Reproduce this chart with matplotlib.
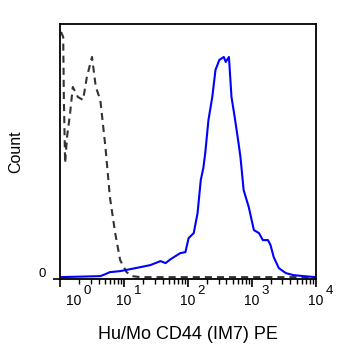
import matplotlib
matplotlib.use("Agg")
import matplotlib.pyplot as plt
import numpy as np
from matplotlib.ticker import LogLocator, NullFormatter

plt.rcParams["font.family"] = ["Liberation Sans", "DejaVu Sans"]

# stained sample (blue), log10 of intensity vs count
stain_log = [0.00, 0.63, 0.71, 0.78, 0.94, 1.18, 1.41, 1.57, 1.65, 1.73, 1.88,
             1.96, 2.01, 2.09, 2.15, 2.20, 2.24, 2.27, 2.32, 2.38, 2.43, 2.49,
             2.56, 2.59, 2.64, 2.65, 2.68, 2.73, 2.79, 2.82, 2.87, 2.95, 3.03,
             3.11, 3.17, 3.25, 3.29, 3.34, 3.42, 3.53, 3.65, 3.81, 4.00]
stain_count = [0, 1, 3, 5, 6, 9, 12, 16, 14, 18, 24,
               25, 39, 44, 64, 97, 109, 124, 157, 180, 207, 217,
               220, 215, 220, 210, 180, 160, 134, 120, 87, 70, 47,
               44, 37, 37, 32, 20, 9, 4, 2, 1, 0]

# unstained control (dashed)
ctrl_log = [0.016, 0.05, 0.06, 0.08, 0.11, 0.16, 0.20, 0.28, 0.36, 0.42, 0.50,
            0.56, 0.63, 0.71, 0.78, 0.86, 0.94, 1.04, 1.13, 1.25, 2.0, 3.0, 4.0]
ctrl_count = [245, 240, 180, 114, 140, 165, 190, 180, 177, 200, 220,
              190, 177, 130, 80, 45, 17, 5, 1, 0, 0, 0, 0]

decades = [0, 1, 2, 3, 4]

fig = plt.figure(figsize=(3.55, 3.52), dpi=100)
ax = fig.add_axes([0.169, 0.207, 0.721, 0.725])

ax.plot(10 ** np.array(ctrl_log), ctrl_count, color="#333333", lw=1.5,
        dashes=(3.4, 2.4))
ax.plot(10 ** np.array(stain_log), stain_count, color="#0000ff", lw=1.5)

ax.set_xscale("log")
ax.set_xlim(1, 1e4)
ax.set_ylim(-2, 253)

for s in ax.spines.values():
    s.set_linewidth(1.3)

ax.xaxis.set_major_locator(LogLocator(base=10, numticks=10))
ax.xaxis.set_minor_locator(LogLocator(base=10, subs=np.arange(2, 10), numticks=20))
ax.xaxis.set_major_formatter(NullFormatter())
ax.xaxis.set_minor_formatter(NullFormatter())
ax.tick_params(axis="x", which="major", direction="out", length=6, width=1.2)
ax.tick_params(axis="x", which="minor", direction="out", length=3.5, width=1.0)

# single y tick at the bottom, "0" sits slightly above it
ax.set_yticks([-2])
ax.set_yticklabels([])
ax.tick_params(axis="y", direction="out", length=5, width=1.2)
ax.annotate("0", xy=(0, 0), xycoords="axes fraction", xytext=(-10.5, 3.5),
            textcoords="offset points", ha="right", va="center", fontsize=9.5)

# decade labels: "10" centred on tick, exponent to the right
for d in decades:
    shift = 10 if d == 0 else 0
    ax.annotate("10", xy=(10 ** d, 0), xycoords=("data", "axes fraction"),
                xytext=(shift, -16), textcoords="offset points",
                ha="center", va="center", fontsize=10)
    ax.annotate(str(d), xy=(10 ** d, 0), xycoords=("data", "axes fraction"),
                xytext=(shift + 7, -8.8), textcoords="offset points",
                ha="left", va="center", fontsize=9.5)

ax.set_xlabel("Hu/Mo CD44 (IM7) PE", fontsize=13, labelpad=24)
ax.set_ylabel("Count", fontsize=11.5, labelpad=18)

fig.savefig("out.png", dpi=100)
